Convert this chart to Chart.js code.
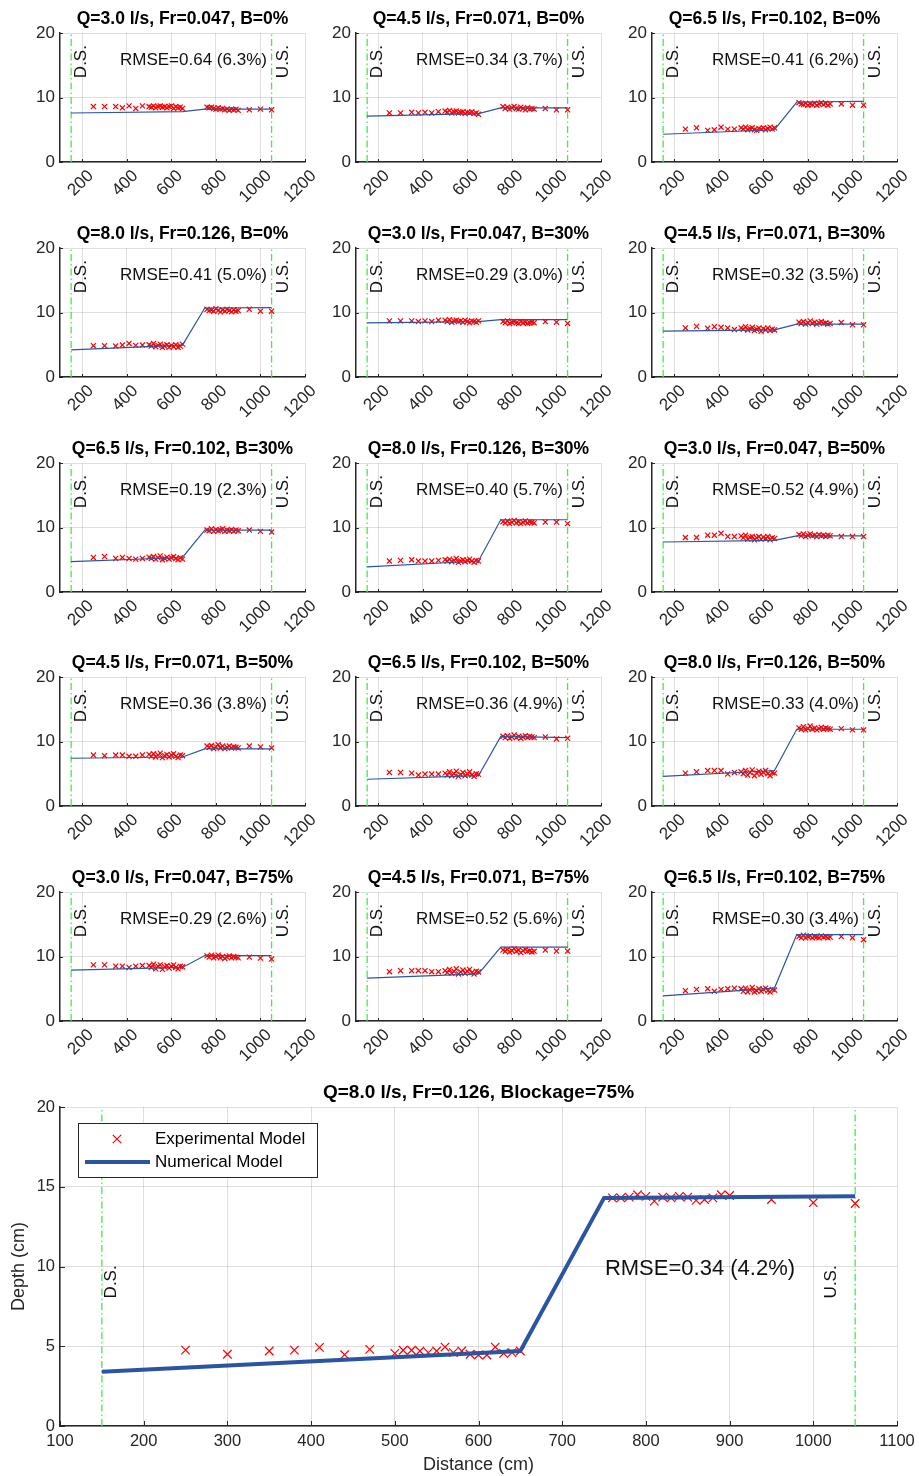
<!DOCTYPE html>
<html>
<head>
<meta charset="utf-8">
<title>Depth profiles</title>
<script src="https://cdn.jsdelivr.net/npm/chart.js@4/dist/chart.umd.min.js"></script>
<style>
  html, body { margin: 0; padding: 0; background: #fff; }
  #page { position: relative; width: 919px; height: 1476px; overflow: hidden; background: #fff; }
  #page canvas { position: absolute; }
</style>
</head>
<body>
<div id="page"></div>
<script>
// ---- data ----
// measuring stations of the experimental model (cm)
const expX = [250, 300, 350, 380, 410, 440, 470,
  500, 510, 520, 530, 540, 550, 560, 570, 580, 590, 600, 610, 620, 630, 640, 650,
  760, 770, 780, 790, 800, 810, 820, 830, 840, 850, 860, 870, 880, 890, 900,
  950, 1000, 1050];
// nodes of the numerical profile (cm)
const numX = [150, 650, 750, 1050];
// downstream / upstream sections (cm)
const sectionX = [150, 1050];
const sectionNames = ['D.S.', 'U.S.'];

const xTicksSmall = [200, 400, 600, 800, 1000, 1200];
const yTicksSmall = [0, 10, 20];
const xTicksBig = [100, 200, 300, 400, 500, 600, 700, 800, 900, 1000, 1100];
const yTicksBig = [0, 5, 10, 15, 20];

// the 15 small cases, row by row
const caseQ = [3.0, 4.5, 6.5, 8.0, 3.0, 4.5, 6.5, 8.0, 3.0, 4.5, 6.5, 8.0, 3.0, 4.5, 6.5];
const caseFr = [0.047, 0.071, 0.102, 0.126, 0.047, 0.071, 0.102, 0.126, 0.047, 0.071, 0.102, 0.126, 0.047, 0.071, 0.102];
const caseB = [0, 0, 0, 0, 30, 30, 30, 30, 50, 50, 50, 50, 75, 75, 75];
const rmseVal = [0.64, 0.34, 0.41, 0.41, 0.29, 0.32, 0.19, 0.40, 0.52, 0.36, 0.36, 0.33, 0.29, 0.52, 0.30];
const rmsePct = [6.3, 3.7, 6.2, 5.0, 3.0, 3.5, 2.3, 5.7, 4.9, 3.8, 4.9, 4.0, 2.6, 5.6, 3.4];

// numerical depth at numX (cm)
const numY = [
  [7.6, 7.8, 8.2, 8.2],
  [7.1, 7.5, 8.4, 8.4],
  [4.3, 5.0, 9.3, 9.4],
  [4.2, 4.95, 10.7, 10.75],
  [8.4, 8.6, 8.9, 8.9],
  [7.1, 7.3, 8.2, 8.2],
  [4.7, 5.35, 9.6, 9.6],
  [3.9, 4.8, 11.2, 11.2],
  [7.75, 8.0, 8.7, 8.7],
  [7.4, 7.6, 8.85, 8.85],
  [4.15, 4.7, 10.8, 10.6],
  [4.6, 5.5, 11.9, 11.9],
  [7.9, 8.3, 10.15, 10.15],
  [6.65, 7.3, 11.45, 11.45],
  [3.9, 5.1, 13.4, 13.4]
];

// measured depth at expX (cm)
const expY = [
  [8.6, 8.6, 8.6, 8.4, 8.7, 8.3, 8.7,
   8.6, 8.5, 8.7, 8.4, 8.6, 8.7, 8.5, 8.6, 8.4, 8.6, 8.7, 8.3, 8.6, 8.4, 8.5, 8.3,
   8.5, 8.4, 8.5, 8.3, 8.2, 8.4, 8.2, 8.3, 8.1, 8.2, 8.0, 8.2, 8.1, 8.2, 8.0,
   8.1, 8.2, 8.1],
  [7.6, 7.6, 7.7, 7.6, 7.7, 7.6, 7.8,
   7.9, 7.7, 8.0, 7.6, 7.8, 7.9, 7.6, 7.7, 7.8, 7.5, 7.7, 7.6, 7.8, 7.5, 7.6, 7.4,
   8.6, 8.3, 8.5, 8.2, 8.4, 8.6, 8.3, 8.2, 8.5, 8.3, 8.1, 8.4, 8.2, 8.3, 8.2,
   8.3, 8.1, 8.1],
  [5.1, 5.3, 4.9, 5.0, 5.4, 5.1, 5.1,
   5.3, 5.1, 5.4, 5.0, 5.2, 5.3, 5.0, 4.9, 5.2, 5.1, 5.3, 5.0, 5.2, 5.4, 5.1, 5.3,
   9.2, 9.0, 8.9, 9.1, 8.8, 9.0, 8.9, 9.1, 8.8, 9.0, 9.2, 8.9, 9.1, 8.8, 9.0,
   9.0, 8.8, 8.8],
  [4.85, 4.85, 4.8, 4.95, 5.2, 4.9, 4.95,
   5.0, 4.8, 5.2, 4.7, 4.9, 5.1, 4.6, 4.8, 5.0, 4.6, 4.9, 4.7, 5.0, 4.6, 4.8, 5.1,
   10.5, 10.3, 10.4, 10.2, 10.6, 10.3, 10.1, 10.4, 10.2, 10.5, 10.3, 10.1, 10.4, 10.2, 10.3,
   10.5, 10.2, 10.2],
  [8.7, 8.7, 8.7, 8.6, 8.7, 8.6, 8.8,
   8.8, 8.6, 8.9, 8.5, 8.7, 8.8, 8.6, 8.7, 8.5, 8.8, 8.6, 8.4, 8.7, 8.6, 8.5, 8.7,
   8.6, 8.4, 8.7, 8.3, 8.5, 8.6, 8.4, 8.3, 8.6, 8.4, 8.5, 8.3, 8.4, 8.5, 8.4,
   8.6, 8.5, 8.3],
  [7.6, 7.85, 7.55, 7.8, 7.7, 7.6, 7.35,
   7.6, 7.4, 7.8, 7.3, 7.5, 7.7, 7.2, 7.4, 7.6, 7.1, 7.5, 7.3, 7.6, 7.2, 7.4, 7.3,
   8.5, 8.3, 8.6, 8.2, 8.4, 8.7, 8.3, 8.5, 8.2, 8.4, 8.6, 8.3, 8.4, 8.2, 8.3,
   8.45, 8.1, 8.1],
  [5.35, 5.5, 5.2, 5.35, 5.2, 5.1, 5.2,
   5.4, 5.2, 5.5, 5.1, 5.3, 5.6, 5.0, 5.2, 5.4, 5.1, 5.3, 5.5, 5.2, 5.0, 5.3, 5.1,
   9.6, 9.5, 9.8, 9.4, 9.7, 9.5, 9.6, 9.8, 9.4, 9.6, 9.5, 9.7, 9.4, 9.6, 9.5,
   9.6, 9.4, 9.3],
  [4.8, 4.9, 5.0, 4.8, 4.8, 4.8, 4.9,
   5.0, 4.8, 5.1, 4.7, 4.9, 5.2, 4.6, 4.8, 5.0, 4.7, 4.9, 5.1, 4.8, 4.6, 4.9, 4.8,
   10.9, 10.7, 11.0, 10.6, 10.8, 11.1, 10.7, 10.9, 10.6, 10.8, 11.0, 10.7, 10.9, 10.8, 10.7,
   10.85, 10.85, 10.6],
  [8.45, 8.45, 8.8, 8.8, 9.1, 8.6, 8.6,
   8.7, 8.4, 8.8, 8.2, 8.5, 8.6, 8.1, 8.4, 8.6, 8.2, 8.5, 8.3, 8.6, 8.1, 8.4, 8.3,
   8.9, 8.7, 9.0, 8.6, 8.8, 9.0, 8.7, 8.8, 8.6, 8.9, 8.7, 8.8, 8.6, 8.8, 8.7,
   8.6, 8.6, 8.6],
  [7.9, 7.8, 7.9, 7.9, 7.7, 7.7, 7.9,
   8.0, 7.7, 8.1, 7.6, 7.9, 8.2, 7.5, 7.8, 8.0, 7.6, 7.9, 8.1, 7.7, 7.5, 7.9, 7.8,
   9.3, 9.1, 9.4, 8.9, 9.2, 9.5, 9.0, 9.3, 8.9, 9.1, 9.3, 9.0, 9.2, 9.1, 9.0,
   9.3, 9.15, 9.0],
  [5.2, 5.2, 5.1, 4.8, 4.95, 4.95, 4.95,
   5.1, 4.8, 5.3, 4.7, 5.0, 5.4, 4.6, 4.9, 5.2, 4.7, 5.0, 5.3, 4.8, 4.6, 5.0, 4.9,
   10.8, 10.6, 10.9, 10.5, 10.7, 11.0, 10.6, 10.8, 10.5, 10.7, 10.9, 10.6, 10.8, 10.7, 10.6,
   10.7, 10.4, 10.5],
  [5.1, 5.3, 5.5, 5.5, 5.5, 4.95, 5.2,
   5.3, 5.0, 5.5, 4.8, 5.2, 5.6, 4.7, 5.1, 5.4, 4.9, 5.2, 5.5, 5.0, 4.7, 5.2, 5.1,
   12.1, 11.9, 12.3, 11.8, 12.0, 12.4, 11.9, 12.1, 11.8, 12.0, 12.2, 11.9, 12.1, 12.0, 11.9,
   12.0, 11.8, 11.8],
  [8.7, 8.7, 8.5, 8.5, 8.3, 8.5, 8.6,
   8.6, 8.3, 8.8, 8.1, 8.5, 8.7, 8.0, 8.4, 8.6, 8.2, 8.5, 8.7, 8.3, 8.1, 8.5, 8.4,
   10.1, 9.9, 10.2, 9.8, 10.0, 10.2, 9.8, 10.0, 9.7, 9.9, 10.1, 9.8, 10.0, 9.9, 9.8,
   9.9, 9.75, 9.6],
  [7.65, 7.8, 7.8, 7.8, 7.8, 7.65, 7.65,
   7.8, 7.5, 8.0, 7.4, 7.7, 8.1, 7.3, 7.6, 7.9, 7.4, 7.7, 8.0, 7.5, 7.3, 7.7, 7.6,
   11.0, 10.8, 11.1, 10.7, 10.9, 11.2, 10.8, 11.0, 10.6, 10.9, 11.1, 10.8, 10.9, 10.7, 10.8,
   11.0, 10.85, 10.85],
  [4.7, 4.9, 5.0, 4.6, 4.9, 5.0, 5.1,
   5.0, 4.6, 5.1, 4.5, 4.8, 5.2, 4.5, 4.7, 5.0, 4.6, 4.9, 5.1, 4.7, 4.5, 4.9, 4.8,
   13.1, 12.9, 13.3, 12.9, 13.1, 13.2, 12.9, 13.1, 13.0, 12.9, 13.2, 13.0, 13.1, 12.9, 13.0,
   13.1, 12.9, 12.6]
];

// the large case
const bigQ = 8.0, bigFr = 0.126, bigB = 75;
const bigRmseVal = 0.34, bigRmsePct = 4.2;
const bigNumY = [3.4, 4.7, 14.3, 14.4];
const bigExpY = [4.76, 4.5, 4.7, 4.76, 4.93, 4.47, 4.8,
  4.55, 4.75, 4.75, 4.7, 4.6, 4.7, 4.95, 4.6, 4.7, 4.5, 4.45, 4.45, 4.95, 4.55, 4.6, 4.7,
  14.3, 14.3, 14.35, 14.5, 14.4, 14.1, 14.35, 14.3, 14.4, 14.35, 14.15, 14.2, 14.3, 14.5, 14.45,
  14.2, 14.0, 13.95];

// ---- styling ----
const FONT = '"Liberation Sans", Arial, Helvetica, sans-serif';
const AXIS = '#262626';
const GRID = 'rgba(38,38,38,0.15)';
const BLUE = '#2b55a3';
const GREEN = '#3cf03c';
const RED = '#ff0000';

Chart.defaults.font.family = FONT;
Chart.defaults.color = AXIS;

const page = document.getElementById('page');

function pts(xs, ys) {
  return xs.map((x, i) => ({x: x, y: ys[i]}));
}

// draws the texts, inward tick marks and legend on top of the plot
const overlay = {
  id: 'overlay',
  afterDraw(chart, args, o) {
    const ctx = chart.ctx;
    const a = chart.chartArea;
    const xs = chart.scales.x, ys = chart.scales.y;
    ctx.save();

    // tick marks inside the box
    ctx.strokeStyle = AXIS;
    ctx.lineWidth = 1;
    ctx.beginPath();
    xs.ticks.forEach(t => {
      const px = Math.round(xs.getPixelForValue(t.value)) + 0.5;
      ctx.moveTo(px, a.bottom);
      ctx.lineTo(px, a.bottom - o.tickLen);
    });
    ys.ticks.forEach(t => {
      const py = Math.round(ys.getPixelForValue(t.value)) + 0.5;
      ctx.moveTo(a.left, py);
      ctx.lineTo(a.left + o.tickLen, py);
    });
    ctx.stroke();

    // title
    ctx.fillStyle = '#000';
    ctx.font = 'bold ' + o.titleSize + 'px ' + FONT;
    ctx.textAlign = 'center';
    ctx.textBaseline = 'middle';
    ctx.fillText(o.title, (a.left + a.right) / 2, a.top - o.titleGap);

    // RMSE note
    ctx.fillStyle = '#111';
    ctx.font = o.rmseSize + 'px ' + FONT;
    ctx.textAlign = o.rmseAlign;
    ctx.fillText(o.rmse, xs.getPixelForValue(o.rmseAt[0]), ys.getPixelForValue(o.rmseAt[1]));

    // section names, rotated
    ctx.font = o.labelSize + 'px ' + FONT;
    o.sections.forEach((s, i) => {
      ctx.save();
      ctx.translate(xs.getPixelForValue(sectionX[i]) + s.dx, ys.getPixelForValue(o.labelY));
      ctx.rotate(-Math.PI / 2);
      ctx.textAlign = 'left';
      ctx.textBaseline = s.base;
      ctx.fillText(sectionNames[i], 0, 0);
      ctx.restore();
    });

    // legend box (large plot only)
    if (o.legend) {
      const L = o.legend;
      const lx = a.left + L.dx, ly = a.top + L.dy;
      ctx.fillStyle = '#fff';
      ctx.fillRect(lx, ly, L.w, L.h);
      ctx.strokeStyle = AXIS;
      ctx.lineWidth = 1;
      ctx.strokeRect(lx + 0.5, ly + 0.5, L.w, L.h);

      const y1 = ly + L.row1, y2 = ly + L.row2;
      const mx = lx + 39, r = 4.2;
      ctx.strokeStyle = RED;
      ctx.lineWidth = 1.2;
      ctx.beginPath();
      ctx.moveTo(mx - r, y1 - r); ctx.lineTo(mx + r, y1 + r);
      ctx.moveTo(mx + r, y1 - r); ctx.lineTo(mx - r, y1 + r);
      ctx.stroke();

      ctx.strokeStyle = BLUE;
      ctx.lineWidth = 4;
      ctx.beginPath();
      ctx.moveTo(lx + 7, y2); ctx.lineTo(lx + 72, y2);
      ctx.stroke();

      ctx.fillStyle = '#000';
      ctx.font = L.size + 'px ' + FONT;
      ctx.textAlign = 'left';
      ctx.textBaseline = 'middle';
      ctx.fillText('Experimental Model', lx + 77, y1);
      ctx.fillText('Numerical Model', lx + 77, y2);
    }
    ctx.restore();
  }
};

// one panel: plot area at (left, top) with size w x h
function makePanel(g) {
  const canvas = document.createElement('canvas');
  canvas.width = g.w + g.padL + g.padR;
  canvas.height = g.h + g.padT + g.padB;
  canvas.style.left = (g.left - g.padL) + 'px';
  canvas.style.top = (g.top - g.padT) + 'px';
  page.appendChild(canvas);

  const sectionSets = sectionX.map(sx => ({
    data: [{x: sx, y: 0}, {x: sx, y: 20}],
    showLine: true,
    borderColor: GREEN,
    borderWidth: 1.3,
    borderDash: [7, 3, 1.5, 3],
    pointRadius: 0,
    order: 3
  }));

  return new Chart(canvas.getContext('2d'), {
    type: 'scatter',
    data: {
      datasets: [
        {
          label: 'Numerical Model',
          data: pts(numX, g.numY),
          showLine: true,
          borderColor: BLUE,
          borderWidth: g.lineW,
          pointRadius: 0,
          order: 1
        },
        {
          label: 'Experimental Model',
          data: pts(expX, g.expY),
          pointStyle: 'crossRot',
          pointRadius: g.markR,
          borderColor: RED,
          backgroundColor: RED,
          pointBorderWidth: g.markW,
          showLine: false,
          order: 2
        }
      ].concat(sectionSets)
    },
    options: {
      responsive: false,
      animation: false,
      events: [],
      layout: {padding: {left: 0, top: g.padT, right: g.padR, bottom: 0}},
      scales: {
        x: {
          type: 'linear',
          min: g.xMin,
          max: g.xMax,
          afterBuildTicks: s => { s.ticks = g.xTicks.map(v => ({value: v})); },
          afterFit: s => { s.height = g.padB; },
          ticks: {
            autoSkip: false,
            minRotation: g.rot,
            maxRotation: g.rot,
            labelOffset: g.rot ? 8.5 : 0,
            padding: g.xPad,
            color: AXIS,
            font: {size: g.tickSize},
            callback: v => String(v)
          },
          grid: {color: GRID, drawTicks: false, lineWidth: 1},
          border: {color: AXIS, width: 1.5},
          title: g.xTitle ? {display: true, text: g.xTitle, color: AXIS, font: {size: g.axisTitleSize}, padding: {top: 0, bottom: 0}} : {display: false}
        },
        y: {
          type: 'linear',
          min: 0,
          max: 20,
          afterBuildTicks: s => { s.ticks = g.yTicks.map(v => ({value: v})); },
          afterFit: s => { s.width = g.padL; },
          ticks: {padding: 5, color: AXIS, font: {size: g.tickSize}, callback: v => String(v)},
          grid: {color: GRID, drawTicks: false, lineWidth: 1},
          border: {color: AXIS, width: 1.5},
          title: g.yTitle ? {display: true, text: g.yTitle, color: AXIS, font: {size: g.axisTitleSize}, padding: {top: 8, bottom: 0}} : {display: false}
        }
      },
      plugins: {
        legend: {display: false},
        tooltip: {enabled: false},
        overlay: {
          title: g.title,
          titleSize: g.titleSize,
          titleGap: 14,
          rmse: g.rmse,
          rmseSize: g.rmseSize,
          rmseAlign: g.rmseAlign,
          rmseAt: g.rmseAt,
          labelSize: 17,
          labelY: g.labelY,
          sections: g.sections,
          tickLen: g.tickLen,
          legend: g.legend || null
        }
      }
    },
    plugins: [overlay]
  });
}

// ---- 5 x 3 grid of small panels ----
const colLeft = [60, 356, 652];
const rowTop = [33, 248, 463, 677, 892];

caseQ.forEach((q, i) => {
  makePanel({
    left: colLeft[i % 3], top: rowTop[Math.floor(i / 3)], w: 245, h: 129,
    padL: 60, padT: 32, padR: 22, padB: 52,
    xMin: 100, xMax: 1200, xTicks: xTicksSmall, yTicks: yTicksSmall,
    rot: 45, xPad: 4, tickSize: 17,
    numY: numY[i], expY: expY[i],
    lineW: 1.2, markR: 3.6, markW: 1.2,
    title: 'Q=' + q.toFixed(1) + ' l/s, Fr=' + caseFr[i].toFixed(3) + ', B=' + caseB[i] + '%',
    titleSize: 17.5,
    rmse: 'RMSE=' + rmseVal[i].toFixed(2) + ' (' + rmsePct[i].toFixed(1) + '%)',
    rmseSize: 17, rmseAlign: 'right', rmseAt: [1029, 15.7],
    labelY: 13.0,
    sections: [{dx: 2, base: 'top'}, {dx: 3, base: 'top'}],
    tickLen: 3
  });
});

// ---- large panel ----
makePanel({
  left: 60, top: 1107, w: 837, h: 319,
  padL: 60, padT: 27, padR: 28, padB: 50,
  xMin: 100, xMax: 1100, xTicks: xTicksBig, yTicks: yTicksBig,
  rot: 0, xPad: 6, tickSize: 16.5,
  numY: bigNumY, expY: bigExpY,
  lineW: 4, markR: 6, markW: 1.2,
  title: 'Q=' + bigQ.toFixed(1) + ' l/s, Fr=' + bigFr.toFixed(3) + ', Blockage=' + bigB + '%',
  titleSize: 19,
  rmse: 'RMSE=' + bigRmseVal.toFixed(2) + ' (' + bigRmsePct.toFixed(1) + '%)',
  rmseSize: 22, rmseAlign: 'left', rmseAt: [751, 9.85],
  labelY: 8.0,
  sections: [{dx: 1, base: 'top'}, {dx: -19, base: 'alphabetic'}],
  tickLen: 5,
  xTitle: 'Distance (cm)', yTitle: 'Depth (cm)', axisTitleSize: 18,
  legend: {dx: 18, dy: 16, w: 239, h: 54, row1: 16, row2: 39, size: 17}
});
</script>
</body>
</html>
